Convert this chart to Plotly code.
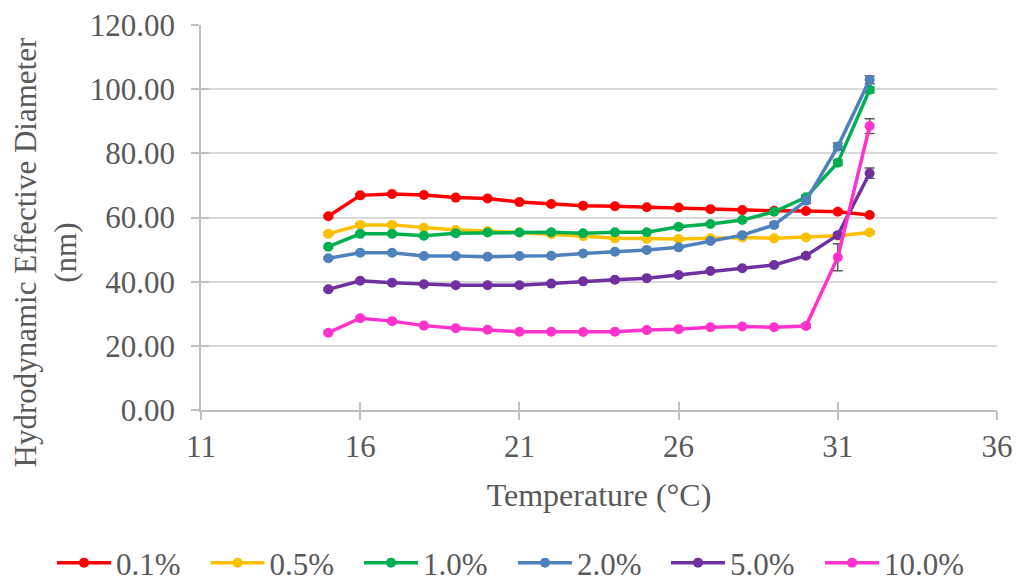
import plotly.graph_objects as go

# Temperatures (°C) at which the hydrodynamic diameter was measured
temperature = [15, 16, 17, 18, 19, 20, 21, 22, 23, 24, 25, 26, 27, 28, 29, 30, 31, 32]

# Mean hydrodynamic effective diameter (nm) for each concentration
d_0_1 = [60.4, 66.9, 67.3, 67.0, 66.2, 65.9, 64.8, 64.2, 63.7, 63.5, 63.2, 63.1, 62.6, 62.3, 62.1, 62.0, 61.8, 60.8]
d_0_5 = [54.9, 57.7, 57.7, 56.8, 56.1, 55.8, 55.3, 54.8, 54.2, 53.5, 53.3, 53.3, 53.5, 53.8, 53.5, 53.8, 54.3, 55.3]
d_1_0 = [50.9, 54.9, 54.9, 54.3, 55.1, 55.3, 55.3, 55.4, 55.1, 55.4, 55.4, 57.1, 58.0, 59.2, 61.8, 66.3, 77.1, 99.8]
d_2_0 = [47.3, 49.0, 49.0, 48.0, 48.0, 47.8, 48.0, 48.1, 48.8, 49.3, 49.9, 50.7, 52.7, 54.5, 57.7, 65.2, 82.1, 102.9]
d_5_0 = [37.6, 40.3, 39.7, 39.2, 38.9, 38.9, 38.9, 39.4, 40.1, 40.6, 41.1, 42.1, 43.3, 44.2, 45.2, 48.1, 54.5, 73.8]
d_10_0 = [24.1, 28.6, 27.7, 26.3, 25.5, 25.0, 24.4, 24.4, 24.3, 24.4, 24.9, 25.2, 25.8, 26.0, 25.8, 26.2, 47.6, 88.5]

# Standard deviations (nm)
sd_0_1 = [0.4, 0.5, 0.4, 0.3, 0.3, 0.3, 0.3, 0.3, 0.3, 0.3, 0.3, 0.3, 0.3, 0.3, 0.3, 0.3, 0.4, 0.4]
sd_0_5 = [0.4, 0.4, 0.4, 0.3, 0.3, 0.3, 0.3, 0.3, 0.3, 0.3, 0.3, 0.3, 0.3, 0.3, 0.3, 0.3, 0.4, 0.4]
sd_1_0 = [0.4, 0.4, 0.3, 0.3, 0.3, 0.3, 0.3, 0.3, 0.3, 0.3, 0.3, 0.3, 0.3, 0.4, 0.4, 0.6, 0.8, 0.9]
sd_2_0 = [0.4, 0.4, 0.3, 0.3, 0.3, 0.3, 0.3, 0.3, 0.3, 0.3, 0.3, 0.3, 0.4, 0.4, 0.5, 0.8, 1.1, 1.2]
sd_5_0 = [0.4, 0.4, 0.3, 0.3, 0.3, 0.3, 0.3, 0.3, 0.3, 0.3, 0.3, 0.3, 0.3, 0.4, 0.4, 0.5, 0.6, 1.6]
sd_10_0 = [0.4, 0.5, 0.4, 0.3, 0.3, 0.3, 0.3, 0.3, 0.3, 0.3, 0.3, 0.3, 0.3, 0.3, 0.3, 0.6, 4.2, 2.3]

series_names = ["0.1%", "0.5%", "1.0%", "2.0%", "5.0%", "10.0%"]
series_values = [d_0_1, d_0_5, d_1_0, d_2_0, d_5_0, d_10_0]
series_errors = [sd_0_1, sd_0_5, sd_1_0, sd_2_0, sd_5_0, sd_10_0]
series_colors = ["#ff0000", "#ffc000", "#00b050", "#4f81bd", "#7030a0", "#ff33cc"]

y_ticks = [0, 20, 40, 60, 80, 100, 120]
x_ticks = [11, 16, 21, 26, 31, 36]

FONT = "Liberation Serif"
TEXT = "#595959"
AXIS = "#bfbfbf"
GRID = "#d9d9d9"

W, H = 1016, 584
LEGEND_LEFT = [52, 205.6, 359, 513, 666, 820]   # left edge of each legend entry (px)
LEGEND_MID = 563                                  # vertical centre of the legend row (px)

fig = go.Figure()

legend_layout = {}
for i, (name, vals, errs, color) in enumerate(zip(series_names, series_values,
                                                  series_errors, series_colors)):
    lg = "legend" if i == 0 else f"legend{i + 1}"
    fig.add_trace(go.Scatter(
        x=temperature, y=vals, name=name, mode="lines+markers",
        line=dict(color=color, width=3.5),
        marker=dict(color=color, size=10, symbol="circle"),
        error_y=dict(type="data", array=errs, visible=True,
                     color="#595959", thickness=1.5, width=5),
        legend=lg,
    ))
    # one single-entry legend per series so the row can span the full chart width
    legend_layout[lg] = dict(
        orientation="h", xref="container", yref="container",
        x=LEGEND_LEFT[i] / W, xanchor="left",
        y=(H - LEGEND_MID) / H, yanchor="middle",
        font=dict(family=FONT, size=31, color=TEXT),
        itemwidth=54, bgcolor="rgba(0,0,0,0)",
    )

# Invisible trace on overlay axes, only to draw the inner halves of the tick marks
fig.add_trace(go.Scatter(x=[11, 36], y=[0, 120], xaxis="x2", yaxis="y2",
                         mode="markers", marker=dict(opacity=0),
                         showlegend=False, hoverinfo="skip"))

fig.update_layout(
    width=W, height=H,
    margin=dict(l=201, r=19, t=25, b=174, autoexpand=False),
    paper_bgcolor="white", plot_bgcolor="white",
    font=dict(family=FONT, size=31, color=TEXT),
    showlegend=True,
    xaxis=dict(range=[11, 36], tickvals=x_ticks, ticktext=[str(v) for v in x_ticks],
               showgrid=False, zeroline=False, automargin=False,
               showline=True, linecolor=AXIS, linewidth=1.5,
               ticks="outside", ticklen=8, tickwidth=1.5, tickcolor=AXIS,
               ticklabelstandoff=0, tickfont=dict(family=FONT, size=31, color=TEXT),
               title=dict(text="Temperature (°C)", standoff=21,
                          font=dict(family=FONT, size=32, color=TEXT))),
    yaxis=dict(range=[0, 120], tickvals=y_ticks, ticktext=[f"{v:.2f}" for v in y_ticks],
               showgrid=True, gridcolor=GRID, gridwidth=1.5, zeroline=False,
               automargin=False,
               showline=True, linecolor=AXIS, linewidth=1.5,
               ticks="outside", ticklen=8, tickwidth=1.5, tickcolor=AXIS,
               ticklabelstandoff=10, tickfont=dict(family=FONT, size=31, color=TEXT)),
    xaxis2=dict(overlaying="x", range=[11, 36], tickvals=x_ticks, showticklabels=False,
                showgrid=False, zeroline=False, showline=False, automargin=False,
                ticks="inside", ticklen=8, tickwidth=1.5, tickcolor=AXIS),
    yaxis2=dict(overlaying="y", range=[0, 120], tickvals=y_ticks, showticklabels=False,
                showgrid=False, zeroline=False, showline=False, automargin=False,
                ticks="inside", ticklen=8, tickwidth=1.5, tickcolor=AXIS),
    annotations=[dict(
        text="Hydrodynamic Effective Diameter<br>(nm)",
        xref="paper", yref="paper", x=(44.5 - 201) / 796, y=(410 - 253) / 385,
        xanchor="center", yanchor="middle", textangle=-90, showarrow=False,
        font=dict(family=FONT, size=31, color=TEXT),
    )],
    **legend_layout,
)

fig.write_html("out.html")
